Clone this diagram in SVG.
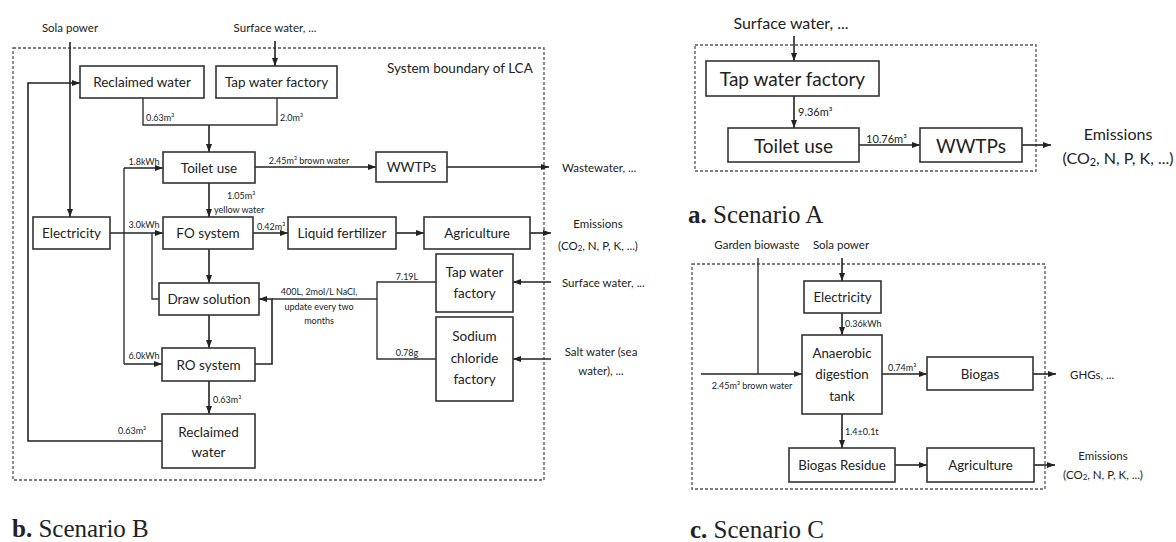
<svg xmlns="http://www.w3.org/2000/svg" width="1176" height="542" viewBox="0 0 1176 542">
<defs>
<marker id="ah" viewBox="0 0 8 6" refX="8" refY="3" markerWidth="8" markerHeight="6" markerUnits="userSpaceOnUse" orient="auto"><path d="M0,0 L8,3 L0,6 z" fill="#222"/></marker>
<style>
.box{fill:#fff;stroke:#333;stroke-width:1.6}
.ln{fill:none;stroke:#333;stroke-width:1.4}
.ar{fill:none;stroke:#222;stroke-width:1.6;marker-end:url(#ah)}
.dash{fill:none;stroke:#555;stroke-width:1.3;stroke-dasharray:3 2}
text{font-family:Lato,"Liberation Sans",sans-serif;fill:#222}
.n{font-size:13.5px;text-anchor:middle;dominant-baseline:central}
.na{font-size:19px;text-anchor:middle;dominant-baseline:central}
.nc{font-size:13.3px;text-anchor:middle;dominant-baseline:central}
.s{font-size:9px;dominant-baseline:central}
.sa{font-size:11px;dominant-baseline:central}
.e{font-size:11.5px;dominant-baseline:central}
.ea{font-size:16px;dominant-baseline:central}
.cap{font-family:"Liberation Serif",serif;font-size:25px}
</style>
</defs>
<rect width="1176" height="542" fill="#fff"/>

<!-- Scenario B -->
<rect class="dash" x="13" y="48" width="531" height="432"/>
<text class="e" x="387" y="68" style="font-size:13.5px">System boundary of LCA</text>
<text class="e" x="70" y="27" text-anchor="middle">Sola power</text>
<text class="e" x="275" y="27" text-anchor="middle">Surface water, ...</text>
<text class="e" x="562" y="167">Wastewater, ...</text>
<text class="e" x="598" y="223" text-anchor="middle">Emissions</text>
<text class="e" x="598" y="245" text-anchor="middle">(CO<tspan dy="3" font-size="8">2</tspan><tspan dy="-3">, N, P, K, ...)</tspan></text>
<text class="e" x="562" y="282">Surface water, ...</text>
<text class="e" x="601" y="351" text-anchor="middle">Salt water (sea</text>
<text class="e" x="601" y="370" text-anchor="middle">water), ...</text>

<g id="connectors-b">
<path class="ar" d="M70,42 V217"/>
<path class="ar" d="M275,41 V66"/>
<path class="ln" d="M143,98 V125 H277 V98"/>
<path class="ar" d="M209,125 V152"/>
<path class="ar" d="M255,167 H376"/>
<path class="ar" d="M447,167 H549"/>
<path class="ar" d="M162,441 H28 V83 H80"/>
<path class="ar" d="M110,233 H163"/>
<path class="ln" d="M124,168 V364"/>
<path class="ar" d="M124,168 H163"/>
<path class="ar" d="M124,364 H162"/>
<path class="ln" d="M159,299 H152 V233"/>
<path class="ar" d="M209,183 V217"/>
<path class="ar" d="M253,233 H288"/>
<path class="ar" d="M396,233 H424"/>
<path class="ar" d="M530,233 H551"/>
<path class="ar" d="M209,249 V283"/>
<path class="ar" d="M209,315 V348"/>
<path class="ar" d="M209,381 V414"/>
<path class="ar" d="M255,364 H272 V299 H259"/>
<path class="ln" d="M272,299 H377"/>
<path class="ln" d="M436,282 H377 V359 H436"/>
<path class="ar" d="M551,282 H513"/>
<path class="ar" d="M551,359 H513"/>
<text class="s" x="146" y="117">0.63m³</text>
<text class="s" x="280" y="117">2.0m³</text>
<text class="s" x="309" y="160" text-anchor="middle">2.45m³ brown water</text>
<text class="s" x="144" y="161" text-anchor="middle">1.8kWh</text>
<text class="s" x="144" y="224" text-anchor="middle">3.0kWh</text>
<text class="s" x="144" y="355" text-anchor="middle">6.0kWh</text>
<text class="s" x="227" y="195">1.05m³</text>
<text class="s" x="214" y="209">yellow water</text>
<text class="s" x="257" y="226">0.42m³</text>
<text class="s" x="407" y="276" text-anchor="middle">7.19L</text>
<text class="s" x="407" y="352" text-anchor="middle">0.78g</text>
<text class="s" x="319" y="291" text-anchor="middle">400L, 2mol/L NaCl,</text>
<text class="s" x="319" y="306" text-anchor="middle">update every two</text>
<text class="s" x="319" y="320" text-anchor="middle">months</text>
<text class="s" x="213" y="399">0.63m³</text>
<text class="s" x="132" y="430" text-anchor="middle">0.63m³</text>
</g>

<g id="b-reclaimed-top"><rect class="box" x="80" y="66" width="124" height="32"/><text class="n" x="142" y="82">Reclaimed water</text></g>
<g id="b-tap"><rect class="box" x="216" y="66" width="121" height="32"/><text class="n" x="276.5" y="82">Tap water factory</text></g>
<g id="b-toilet"><rect class="box" x="163" y="152" width="92" height="31"/><text class="n" x="209" y="167.5">Toilet use</text></g>
<g id="b-wwtps"><rect class="box" x="376" y="152" width="71" height="30"/><text class="n" x="411.5" y="167">WWTPs</text></g>
<g id="b-electricity"><rect class="box" x="33" y="217" width="77" height="32"/><text class="n" x="71.5" y="233">Electricity</text></g>
<g id="b-fo"><rect class="box" x="163" y="217" width="90" height="32"/><text class="n" x="208" y="233">FO system</text></g>
<g id="b-liquid"><rect class="box" x="288" y="217" width="108" height="32"/><text class="n" x="342" y="233">Liquid fertilizer</text></g>
<g id="b-agri"><rect class="box" x="424" y="217" width="106" height="32"/><text class="n" x="477" y="233">Agriculture</text></g>
<g id="b-draw"><rect class="box" x="159" y="283" width="100" height="32"/><text class="n" x="209" y="299">Draw solution</text></g>
<g id="b-tap2"><rect class="box" x="436" y="254" width="77" height="58"/><text class="n" x="474.5" y="272">Tap water</text><text class="n" x="474.5" y="293">factory</text></g>
<g id="b-nacl"><rect class="box" x="436" y="317" width="77" height="84"/><text class="n" x="474.5" y="336">Sodium</text><text class="n" x="474.5" y="358">chloride</text><text class="n" x="474.5" y="379">factory</text></g>
<g id="b-ro"><rect class="box" x="162" y="348" width="93" height="33"/><text class="n" x="208.5" y="364.5">RO system</text></g>
<g id="b-reclaimed-bot"><rect class="box" x="162" y="414" width="93" height="54"/><text class="n" x="208.5" y="432">Reclaimed</text><text class="n" x="208.5" y="452">water</text></g>

<text class="cap" x="12" y="537"><tspan font-weight="bold">b.</tspan> Scenario B</text>

<!-- Scenario A -->
<rect class="dash" x="695" y="45" width="341" height="126"/>
<text class="ea" x="791" y="22" text-anchor="middle">Surface water, ...</text>
<text class="ea" x="1118" y="133" text-anchor="middle">Emissions</text>
<text class="ea" x="1118" y="157" text-anchor="middle">(CO<tspan dy="4" font-size="11">2</tspan><tspan dy="-4">, N, P, K, ...)</tspan></text>
<g id="connectors-a">
<path class="ar" d="M794,36 V61"/>
<path class="ar" d="M794,96 V128"/>
<path class="ar" d="M859,145 H920"/>
<path class="ar" d="M1022,145 H1051"/>
<text class="sa" x="798" y="111">9.36m³</text>
<text class="sa" x="866" y="138">10.76m³</text>
</g>
<g id="a-tap"><rect class="box" x="706" y="61" width="173" height="35"/><text class="na" x="792.5" y="78.5">Tap water factory</text></g>
<g id="a-toilet"><rect class="box" x="728" y="128" width="131" height="34"/><text class="na" x="793.5" y="145">Toilet use</text></g>
<g id="a-wwtps"><rect class="box" x="920" y="128" width="102" height="34"/><text class="na" x="971" y="145">WWTPs</text></g>
<text class="cap" x="688" y="223"><tspan font-weight="bold">a.</tspan> Scenario A</text>

<!-- Scenario C -->
<rect class="dash" x="692" y="264" width="353" height="225"/>
<text class="e" x="757" y="244" text-anchor="middle">Garden biowaste</text>
<text class="e" x="841" y="244" text-anchor="middle">Sola power</text>
<text class="e" x="1070" y="374">GHGs, ...</text>
<text class="e" x="1103" y="455" text-anchor="middle">Emissions</text>
<text class="e" x="1103" y="474" text-anchor="middle">(CO<tspan dy="3" font-size="8">2</tspan><tspan dy="-3">, N, P, K, ...)</tspan></text>
<g id="connectors-c">
<path class="ln" d="M758,258 V374"/>
<path class="ar" d="M701,374 H802"/>
<path class="ar" d="M842,258 V281"/>
<path class="ar" d="M842,313 V335"/>
<path class="ar" d="M882,374 H927"/>
<path class="ar" d="M1033,374 H1056"/>
<path class="ar" d="M842,414 V448"/>
<path class="ar" d="M895,465 H927"/>
<path class="ar" d="M1034,465 H1055"/>
<text class="s" x="752" y="385" text-anchor="middle">2.45m³ brown water</text>
<text class="s" x="845" y="323">0.36kWh</text>
<text class="s" x="888" y="367">0.74m³</text>
<text class="s" x="845" y="431">1.4±0.1t</text>
</g>
<g id="c-electricity"><rect class="box" x="804" y="281" width="77" height="32"/><text class="nc" x="842.5" y="297">Electricity</text></g>
<g id="c-anaerobic"><rect class="box" x="802" y="335" width="80" height="79"/><text class="nc" x="842" y="353">Anaerobic</text><text class="nc" x="842" y="374">digestion</text><text class="nc" x="842" y="396">tank</text></g>
<g id="c-biogas"><rect class="box" x="927" y="357" width="106" height="33"/><text class="nc" x="980" y="374">Biogas</text></g>
<g id="c-residue"><rect class="box" x="789" y="448" width="106" height="34"/><text class="nc" x="842" y="465">Biogas Residue</text></g>
<g id="c-agri"><rect class="box" x="927" y="448" width="107" height="34"/><text class="nc" x="980.5" y="465">Agriculture</text></g>
<text class="cap" x="690" y="538"><tspan font-weight="bold">c.</tspan> Scenario C</text>
</svg>
